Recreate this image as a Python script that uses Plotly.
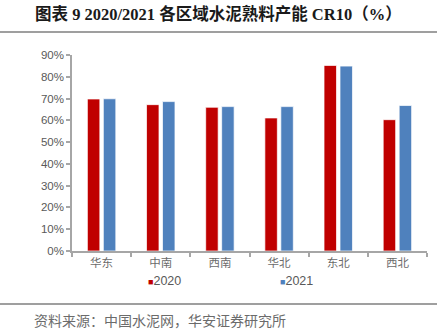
import plotly.graph_objects as go

regions = ["华东", "中南", "西南", "华北", "东北", "西北"]
cr10_2020 = [69.8, 67.2, 66.0, 61.1, 85.2, 60.3]
cr10_2021 = [69.9, 68.6, 66.3, 66.3, 84.9, 66.8]
y_ticks = [0, 10, 20, 30, 40, 50, 60, 70, 80, 90]
y_tick_labels = [f"{v}%" for v in y_ticks]

RED = "#C00000"
BLUE = "#4F81BD"
GRAY_TXT = "#595959"
AXIS = "#A6A6A6"

W, H = 441, 335
L, R, T, B = 72, 14, 55, 84
PW, PH = W - L - R, H - T - B


def px_x(x):
    return (x - L) / PW


def px_y(y):
    return (H - B - y) / PH


fig = go.Figure()
fig.add_trace(go.Bar(x=regions, y=cr10_2020, name="2020",
                     marker=dict(color=RED, line=dict(color="rgba(255,255,255,0.7)", width=1))))
fig.add_trace(go.Bar(x=regions, y=cr10_2021, name="2021",
                     marker=dict(color=BLUE, line=dict(color="rgba(255,255,255,0.7)", width=1))))

fig.update_layout(
    width=W, height=H,
    margin=dict(l=L, r=R, t=T, b=B, pad=0),
    paper_bgcolor="white", plot_bgcolor="white",
    barmode="group", bargap=0.46, bargroupgap=0.22,
    showlegend=False,
    font=dict(family="Liberation Sans, Arial, Noto Sans CJK SC", color=GRAY_TXT),
)
fig.update_yaxes(
    range=[0, 90], tickvals=y_ticks, ticktext=y_tick_labels,
    showgrid=False, zeroline=False,
    showline=True, linecolor=AXIS, linewidth=1.5,
    ticks="outside", ticklen=4, tickcolor=AXIS, tickwidth=1.5,
    tickfont=dict(size=11.5, color=GRAY_TXT, family="Liberation Sans, Arial"),
)
fig.update_xaxes(
    showgrid=False, showline=True, linecolor=AXIS, linewidth=1.5,
    ticks="outside", ticklen=4, tickcolor=AXIS, tickwidth=1.5,
    tickson="boundaries",
    tickfont=dict(size=11.5, color="#6b6b6b", family="Noto Sans CJK SC"),
)

# Title and separator lines
fig.add_annotation(
    text="<b>图表 9 2020/2021 各区域水泥熟料产能 CR10（%）</b>",
    xref="paper", yref="paper", x=px_x(33), y=px_y(14),
    xanchor="left", yanchor="middle", showarrow=False,
    font=dict(size=16.5, color="#1a1a1a", family="Liberation Serif, Noto Sans CJK SC"),
)
fig.add_shape(type="line", xref="paper", yref="paper",
              x0=px_x(0), x1=px_x(437), y0=px_y(32), y1=px_y(32),
              line=dict(color="#7F7F7F", width=1.5))
fig.add_shape(type="line", xref="paper", yref="paper",
              x0=px_x(0), x1=px_x(437), y0=px_y(304), y1=px_y(304),
              line=dict(color="#7F7F7F", width=1.5))

# Legend (text annotations)
for label, color, xpix in [("2020", RED, 146), ("2021", BLUE, 278)]:
    fig.add_annotation(
        text=f"<span style='color:{color};font-size:9px'>■</span>{label}",
        xref="paper", yref="paper", x=px_x(xpix), y=px_y(281),
        xanchor="left", yanchor="middle", showarrow=False,
        font=dict(size=12.5, color=GRAY_TXT, family="Liberation Sans, Arial"),
    )

# Source
fig.add_annotation(
    text="资料来源：中国水泥网，华安证券研究所",
    xref="paper", yref="paper", x=px_x(32), y=px_y(320),
    xanchor="left", yanchor="middle", showarrow=False,
    font=dict(size=14, color="#6b6b6b", family="Noto Sans CJK SC"),
)

fig.write_html("out.html")
